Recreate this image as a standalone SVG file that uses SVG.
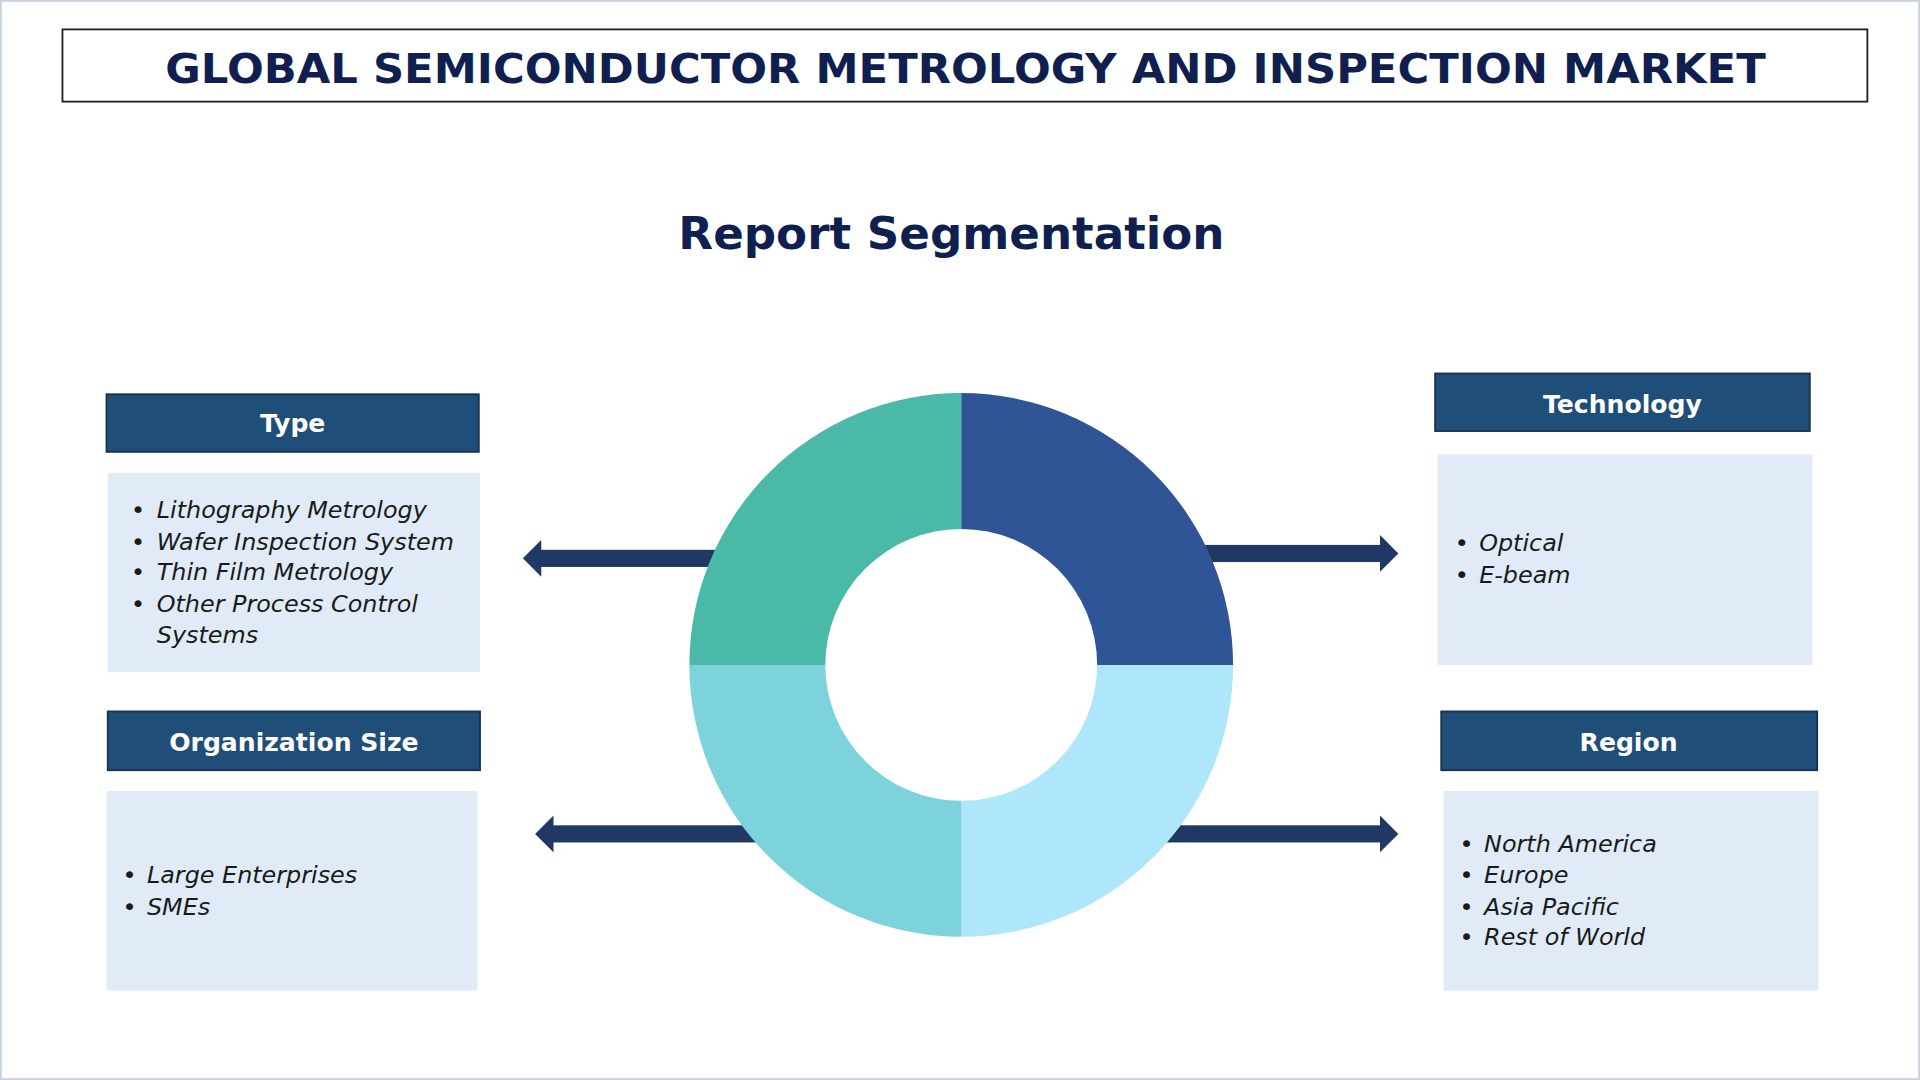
<svg xmlns="http://www.w3.org/2000/svg" width="1920" height="1080" viewBox="0 0 1920 1080">
<defs>
<style>
.hd{fill:#1f4e79;stroke:#16324f;stroke-width:1.5}
.bx{fill:#e1ebf7}
.ht{font-family:"DejaVu Sans",sans-serif;font-weight:bold;font-size:20.5px;fill:#fff;text-anchor:middle}
.it{font-family:"DejaVu Sans",sans-serif;font-style:italic;font-size:19.5px;fill:#1a1a1a}
.ar{fill:#1f3864}
</style>
</defs>
<rect width="1920" height="1080" fill="#fff"/>
<g transform="scale(1.2245)">
<rect x="0.5" y="0.5" width="1567" height="881" fill="none" stroke="#c5d3e0" stroke-width="2"/>
<g id="title">
<rect x="51" y="24" width="1474" height="59" fill="#fff" stroke="#222" stroke-width="1.5"/>
<text x="135" y="68" textLength="1307" lengthAdjust="spacingAndGlyphs" font-family="DejaVu Sans,sans-serif" font-weight="bold" font-size="34" fill="#0f1f4f">GLOBAL SEMICONDUCTOR METROLOGY AND INSPECTION MARKET</text>
</g>
<text x="554" y="203" textLength="446" lengthAdjust="spacingAndGlyphs" font-family="DejaVu Sans,sans-serif" font-weight="bold" font-size="36" fill="#0f1f4f">Report Segmentation</text>
<g id="connectors">
<rect class="ar" x="440" y="449" width="150" height="14"/><polygon class="ar" points="427,456 442,441 442,471"/>
<rect class="ar" x="980" y="445" width="150" height="14"/><polygon class="ar" points="1142,452 1127,437 1127,467"/>
<rect class="ar" x="450" y="674" width="170" height="14"/><polygon class="ar" points="437,681 452,666 452,696"/>
<rect class="ar" x="950" y="674" width="180" height="14"/><polygon class="ar" points="1142,681 1127,666 1127,696"/>
</g>
<g id="donut">
<path d="M785,321 A222,222 0 0 1 1007,543 L896,543 A111,111 0 0 0 785,432 Z" fill="#2f5597"/>
<path d="M1007,543 A222,222 0 0 1 785,765 L785,654 A111,111 0 0 0 896,543 Z" fill="#aee6fb"/>
<path d="M785,765 A222,222 0 0 1 563,543 L674,543 A111,111 0 0 0 785,654 Z" fill="#7dd3db"/>
<path d="M563,543 A222,222 0 0 1 785,321 L785,432 A111,111 0 0 0 674,543 Z" fill="#4ab9a8"/>
</g>
<g id="type">
<rect class="hd" x="87" y="322" width="304" height="47"/><text class="ht" x="239" y="353">Type</text>
<rect class="bx" x="88" y="386" width="304" height="163"/>
<text class="it"><tspan x="107" y="423">•</tspan><tspan x="107" y="449">•</tspan><tspan x="107" y="474">•</tspan><tspan x="107" y="500">•</tspan></text>
<text class="it"><tspan x="128" y="423">Lithography Metrology</tspan><tspan x="128" y="449">Wafer Inspection System</tspan><tspan x="128" y="474">Thin Film Metrology</tspan><tspan x="128" y="500">Other Process Control</tspan><tspan x="128" y="525">Systems</tspan></text>
</g>
<g id="org">
<rect class="hd" x="88" y="581" width="304" height="48"/><text class="ht" x="240" y="613">Organization Size</text>
<rect class="bx" x="87" y="646" width="303" height="163"/>
<text class="it"><tspan x="100" y="721">•</tspan><tspan x="100" y="747">•</tspan></text>
<text class="it"><tspan x="120" y="721">Large Enterprises</tspan><tspan x="120" y="747">SMEs</tspan></text>
</g>
<g id="tech">
<rect class="hd" x="1172" y="305" width="306" height="47"/><text class="ht" x="1325" y="337">Technology</text>
<rect class="bx" x="1174" y="371" width="306" height="172"/>
<text class="it"><tspan x="1188" y="450">•</tspan><tspan x="1188" y="476">•</tspan></text>
<text class="it"><tspan x="1208" y="450">Optical</tspan><tspan x="1208" y="476">E-beam</tspan></text>
</g>
<g id="region">
<rect class="hd" x="1177" y="581" width="307" height="48"/><text class="ht" x="1330" y="613">Region</text>
<rect class="bx" x="1179" y="646" width="306" height="163"/>
<text class="it"><tspan x="1192" y="696">•</tspan><tspan x="1192" y="721">•</tspan><tspan x="1192" y="747">•</tspan><tspan x="1192" y="772">•</tspan></text>
<text class="it"><tspan x="1212" y="696">North America</tspan><tspan x="1212" y="721">Europe</tspan><tspan x="1212" y="747">Asia Pacific</tspan><tspan x="1212" y="772">Rest of World</tspan></text>
</g>
</g>
</svg>
